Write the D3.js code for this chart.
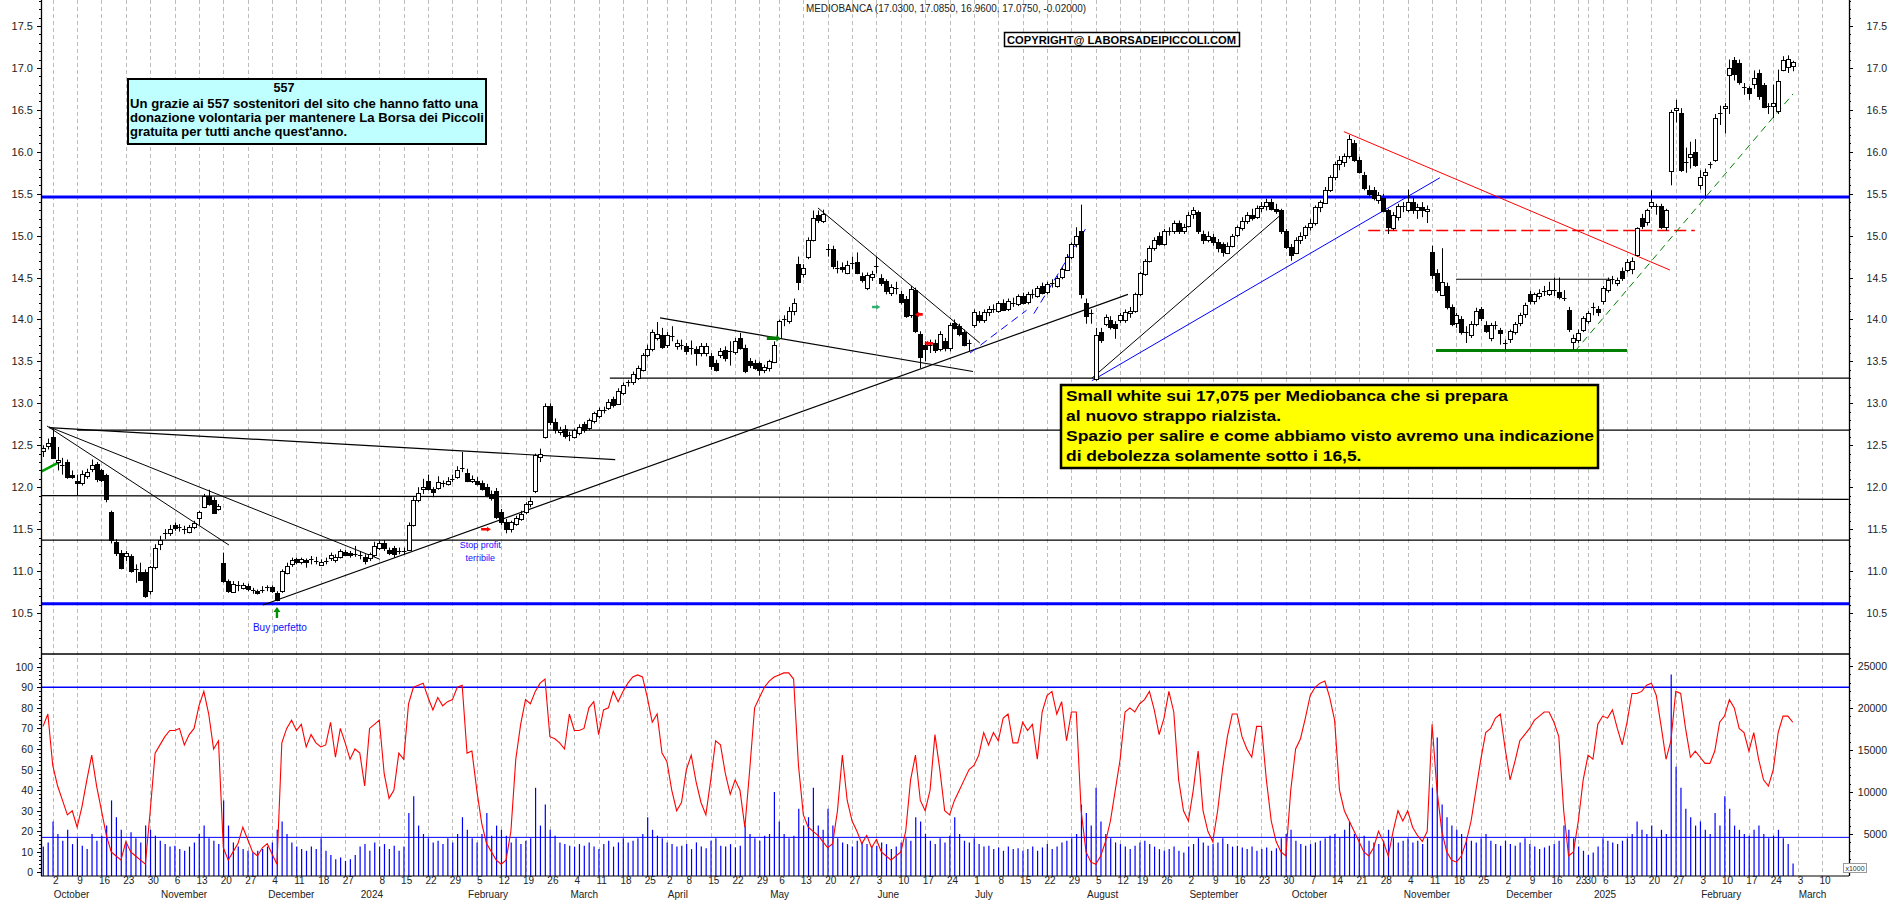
<!DOCTYPE html>
<html><head><meta charset="utf-8">
<script src="https://d3js.org/d3.v7.min.js"></script>
<style>body{margin:0;background:#fff}svg{display:block}text{font-family:"Liberation Sans",Arial,sans-serif}</style>
</head><body><svg id="c" width="1890" height="903"></svg>
<script>
// ---------------- DATA ----------------
const ohlc = [
[12.43,12.50,12.36,12.47],[12.50,12.58,12.45,12.53],[12.60,12.70,12.34,12.35],[12.30,12.48,12.20,12.32],[12.26,12.35,12.15,12.25],[12.30,12.33,12.10,12.12],[12.15,12.20,12.10,12.13],[12.08,12.15,11.90,12.06],[12.05,12.20,12.02,12.16],[12.13,12.22,12.10,12.18],
[12.22,12.33,12.18,12.27],[12.28,12.30,12.06,12.10],[12.20,12.22,12.06,12.08],[12.14,12.16,11.82,11.85],[11.70,11.72,11.33,11.37],[11.35,11.38,11.18,11.22],[11.22,11.25,11.02,11.04],[11.18,11.24,11.12,11.22],[11.18,11.20,10.98,11.00],[11.03,11.08,10.86,11.02],
[10.99,11.10,10.88,10.90],[10.99,11.02,10.68,10.70],[10.76,11.06,10.72,11.05],[11.05,11.32,11.02,11.28],[11.32,11.42,11.25,11.37],[11.44,11.50,11.38,11.45],[11.45,11.55,11.42,11.50],[11.55,11.58,11.48,11.52],[11.52,11.56,11.47,11.52],[11.50,11.54,11.44,11.50],
[11.47,11.55,11.45,11.53],[11.52,11.60,11.50,11.57],[11.63,11.72,11.55,11.70],[11.77,11.92,11.75,11.90],[11.90,11.97,11.78,11.80],[11.85,11.88,11.68,11.70],[11.75,11.80,11.72,11.78],[11.10,11.22,10.86,10.88],[10.88,10.90,10.74,10.76],[10.76,10.88,10.74,10.85],
[10.83,10.88,10.76,10.82],[10.80,10.86,10.78,10.83],[10.82,10.85,10.76,10.79],[10.77,10.80,10.73,10.77],[10.76,10.78,10.72,10.74],[10.78,10.82,10.74,10.78],[10.81,10.83,10.76,10.80],[10.81,10.83,10.74,10.76],[10.74,10.76,10.64,10.66],[10.76,11.02,10.74,11.00],
[10.98,11.10,10.96,11.06],[11.08,11.16,11.05,11.13],[11.14,11.16,11.08,11.11],[11.10,11.16,11.08,11.14],[11.13,11.15,11.04,11.11],[11.14,11.18,11.08,11.14],[11.12,11.17,11.08,11.12],[11.08,11.14,11.06,11.11],[11.12,11.16,11.08,11.12],[11.15,11.22,11.12,11.19],
[11.14,11.20,11.10,11.17],[11.17,11.26,11.15,11.24],[11.23,11.25,11.18,11.20],[11.21,11.24,11.16,11.19],[11.20,11.30,11.17,11.20],[11.19,11.24,11.14,11.19],[11.17,11.20,11.08,11.12],[11.15,11.22,11.12,11.20],[11.19,11.35,11.17,11.30],[11.27,11.36,11.25,11.33],
[11.33,11.37,11.24,11.27],[11.25,11.28,11.19,11.21],[11.27,11.30,11.16,11.20],[11.24,11.28,11.20,11.24],[11.24,11.28,11.20,11.24],[11.25,11.58,11.24,11.55],[11.55,11.88,11.53,11.85],[11.85,12.00,11.82,11.93],[11.98,12.10,11.92,12.00],[12.07,12.15,11.96,11.98],
[11.98,12.00,11.88,11.94],[11.99,12.13,11.97,12.06],[12.05,12.08,12.00,12.05],[12.04,12.12,12.02,12.08],[12.10,12.15,12.06,12.10],[12.12,12.25,12.10,12.20],[12.22,12.42,12.18,12.23],[12.17,12.22,12.06,12.08],[12.08,12.14,12.05,12.10],[12.08,12.12,12.02,12.05],
[12.05,12.08,11.96,11.98],[12.00,12.04,11.88,11.90],[11.92,11.96,11.84,11.87],[11.96,11.99,11.62,11.65],[11.70,11.74,11.55,11.58],[11.58,11.62,11.45,11.50],[11.50,11.60,11.46,11.58],[11.56,11.66,11.54,11.63],[11.62,11.72,11.60,11.68],[11.70,11.82,11.68,11.80],
[11.80,11.88,11.76,11.84],[11.95,12.40,11.93,12.38],[12.36,12.46,12.30,12.40],[12.60,13.00,12.58,12.97],[12.97,13.00,12.74,12.78],[12.78,12.82,12.64,12.68],[12.66,12.72,12.62,12.68],[12.70,12.74,12.58,12.62],[12.62,12.66,12.55,12.62],[12.60,12.70,12.58,12.68],
[12.65,12.75,12.62,12.72],[12.75,12.78,12.65,12.68],[12.70,12.82,12.68,12.80],[12.78,12.90,12.76,12.88],[12.85,12.95,12.82,12.92],[12.92,12.96,12.88,12.92],[12.95,13.05,12.92,13.02],[13.05,13.08,12.95,12.98],[13.00,13.18,12.98,13.15],[13.12,13.25,13.10,13.22],
[13.25,13.28,13.20,13.25],[13.25,13.38,13.22,13.35],[13.30,13.45,13.28,13.42],[13.40,13.60,13.38,13.58],[13.58,13.70,13.55,13.65],[13.65,13.88,13.62,13.85],[13.78,13.97,13.75,13.83],[13.82,13.90,13.65,13.68],[13.70,13.85,13.66,13.82],[13.80,13.92,13.74,13.80],
[13.68,13.76,13.64,13.72],[13.70,13.76,13.64,13.70],[13.68,13.72,13.58,13.62],[13.66,13.75,13.58,13.66],[13.65,13.68,13.45,13.60],[13.60,13.72,13.56,13.68],[13.60,13.72,13.56,13.68],[13.56,13.60,13.40,13.44],[13.48,13.52,13.38,13.40],[13.58,13.66,13.54,13.63],
[13.64,13.68,13.50,13.55],[13.62,13.74,13.45,13.62],[13.61,13.78,13.58,13.74],[13.78,13.84,13.64,13.66],[13.66,13.70,13.36,13.38],[13.50,13.54,13.42,13.45],[13.48,13.52,13.40,13.42],[13.48,13.50,13.33,13.40],[13.40,13.46,13.36,13.43],[13.42,13.52,13.38,13.50],
[13.50,13.74,13.48,13.70],[13.78,14.00,13.76,13.98],[14.00,14.05,13.92,14.00],[13.98,14.15,13.95,14.10],[14.10,14.25,14.05,14.20],[14.66,14.75,14.35,14.45],[14.55,14.66,14.50,14.62],[14.75,14.98,14.72,14.95],[14.95,15.30,14.93,15.21],[15.25,15.30,15.15,15.19],
[15.18,15.31,15.15,15.26],[14.84,14.90,14.75,14.84],[14.84,14.88,14.60,14.64],[14.62,14.70,14.55,14.62],[14.63,14.68,14.56,14.61],[14.56,14.70,14.54,14.65],[14.67,14.75,14.60,14.67],[14.69,14.80,14.54,14.56],[14.52,14.56,14.44,14.47],[14.38,14.56,14.35,14.53],
[14.50,14.58,14.46,14.54],[14.64,14.75,14.55,14.64],[14.50,14.54,14.40,14.44],[14.46,14.48,14.30,14.34],[14.32,14.42,14.28,14.39],[14.38,14.45,14.30,14.38],[14.30,14.34,14.18,14.21],[14.25,14.28,14.02,14.05],[14.05,14.40,14.02,14.36],[14.35,14.38,13.84,13.86],
[13.83,13.86,13.42,13.55],[13.69,13.74,13.50,13.64],[13.70,13.76,13.60,13.70],[13.72,13.76,13.60,13.64],[13.65,13.86,13.62,13.83],[13.74,13.78,13.62,13.66],[13.65,13.96,13.62,13.93],[13.96,14.00,13.88,13.90],[13.92,13.95,13.80,13.82],[13.85,13.88,13.68,13.70],
[13.72,13.76,13.62,13.72],[13.93,14.12,13.90,14.09],[14.05,14.10,13.96,13.99],[13.99,14.12,13.96,14.09],[14.08,14.16,14.04,14.12],[14.13,14.18,14.08,14.13],[14.10,14.22,14.08,14.20],[14.20,14.24,14.10,14.12],[14.12,14.25,14.10,14.22],[14.20,14.26,14.15,14.20],
[14.18,14.30,14.16,14.28],[14.28,14.32,14.18,14.20],[14.20,14.33,14.18,14.30],[14.30,14.36,14.25,14.30],[14.28,14.40,14.26,14.38],[14.40,14.44,14.30,14.32],[14.32,14.45,14.30,14.42],[14.43,14.48,14.38,14.43],[14.40,14.52,14.38,14.50],[14.50,14.62,14.48,14.60],
[14.60,14.78,14.58,14.75],[14.75,14.92,14.72,14.90],[14.90,15.10,14.86,15.00],[15.05,15.37,14.25,14.30],[14.20,14.25,13.95,14.05],[14.08,14.12,13.95,14.07],[13.30,13.90,13.27,13.82],[13.85,13.90,13.72,13.75],[13.95,14.06,13.92,14.03],[13.99,14.04,13.88,13.91],
[13.95,13.98,13.77,13.90],[13.99,14.08,13.96,14.05],[13.99,14.12,13.96,14.09],[14.08,14.15,14.02,14.10],[14.10,14.32,14.08,14.30],[14.30,14.57,14.28,14.55],[14.55,14.72,14.52,14.70],[14.70,14.88,14.68,14.85],[14.85,14.98,14.82,14.95],[15.00,15.04,14.88,14.90],
[14.90,15.08,14.88,15.05],[15.05,15.10,15.00,15.05],[15.05,15.18,15.02,15.15],[15.15,15.18,15.02,15.05],[15.05,15.14,15.02,15.10],[15.12,15.28,15.10,15.25],[15.25,15.34,15.20,15.30],[15.28,15.30,15.02,15.05],[15.02,15.06,14.90,14.95],[14.95,15.05,14.92,15.00],
[14.98,15.02,14.88,14.92],[14.92,14.96,14.80,14.85],[14.90,14.92,14.75,14.80],[14.80,14.92,14.78,14.88],[14.88,15.02,14.86,15.00],[15.00,15.12,14.98,15.10],[15.10,15.22,15.06,15.18],[15.18,15.28,15.14,15.25],[15.25,15.32,15.18,15.22],[15.22,15.36,15.20,15.33],
[15.33,15.40,15.28,15.35],[15.35,15.44,15.30,15.40],[15.40,15.44,15.30,15.32],[15.32,15.38,15.26,15.30],[15.30,15.32,15.02,15.05],[15.05,15.08,14.84,14.86],[14.86,14.90,14.70,14.76],[14.80,14.98,14.78,14.95],[14.95,15.04,14.90,15.00],[15.00,15.12,14.96,15.10],
[15.10,15.20,15.06,15.15],[15.15,15.36,15.12,15.34],[15.34,15.42,15.28,15.40],[15.40,15.58,15.38,15.55],[15.55,15.72,15.52,15.70],[15.70,15.88,15.66,15.85],[15.85,15.95,15.78,15.90],[15.88,15.98,15.82,15.95],[15.95,16.20,15.92,16.15],[16.10,16.14,15.88,15.90],
[15.90,15.94,15.74,15.76],[15.72,15.76,15.54,15.56],[15.55,15.60,15.45,15.50],[15.55,15.58,15.42,15.45],[15.42,15.52,15.38,15.48],[15.45,15.50,15.28,15.30],[15.30,15.32,15.02,15.10],[15.10,15.28,15.06,15.25],[15.22,15.38,15.18,15.35],[15.35,15.40,15.28,15.35],
[15.30,15.55,15.28,15.40],[15.40,15.45,15.26,15.30],[15.30,15.38,15.20,15.34],[15.34,15.40,15.22,15.30],[15.30,15.36,15.15,15.32],[14.80,14.88,14.48,14.52],[14.55,14.60,14.32,14.35],[14.30,14.85,14.28,14.45],[14.40,14.44,14.12,14.15],[14.15,14.18,13.92,13.95],
[13.95,14.08,13.90,14.05],[14.00,14.04,13.82,13.85],[13.85,13.92,13.72,13.85],[13.82,13.98,13.78,13.95],[13.95,14.14,13.92,14.10],[14.12,14.15,13.98,14.01],[13.94,13.98,13.84,13.87],[13.78,13.96,13.74,13.93],[13.94,13.98,13.88,13.94],[13.87,13.90,13.70,13.83],
[13.72,13.76,13.64,13.72],[13.76,13.88,13.72,13.86],[13.86,13.97,13.82,13.95],[13.95,14.08,13.92,14.05],[14.06,14.20,14.02,14.17],[14.30,14.34,14.18,14.22],[14.22,14.32,14.18,14.30],[14.28,14.36,14.24,14.32],[14.34,14.40,14.28,14.34],[14.30,14.45,14.28,14.35],
[14.35,14.50,14.28,14.35],[14.33,14.50,14.24,14.27],[14.26,14.35,14.22,14.26],[14.11,14.15,13.85,13.88],[13.73,13.82,13.64,13.78],[13.76,13.88,13.72,13.84],[13.88,14.04,13.85,14.02],[13.98,14.10,13.95,14.08],[14.15,14.20,14.05,14.15],[14.12,14.16,14.04,14.08],
[14.22,14.40,14.18,14.38],[14.35,14.50,14.32,14.47],[14.48,14.52,14.42,14.48],[14.43,14.50,14.40,14.47],[14.58,14.62,14.46,14.50],[14.59,14.72,14.56,14.69],[14.60,14.74,14.54,14.70],[14.77,15.10,14.75,15.09],[15.21,15.26,15.08,15.11],[15.16,15.32,15.12,15.30],
[15.35,15.54,15.32,15.40],[15.35,15.38,15.25,15.35],[15.35,15.38,15.08,15.10],[15.10,15.32,15.06,15.30],[15.78,16.50,15.60,16.48],[16.50,16.62,16.35,16.52],[16.46,16.52,15.76,15.78],[15.87,16.05,15.75,15.88],[15.93,16.12,15.80,15.97],[16.00,16.15,15.82,15.85],
[15.60,15.78,15.55,15.70],[15.73,15.80,15.44,15.76],[15.86,15.88,15.80,15.86],[15.90,16.45,15.88,16.40],[16.46,16.55,16.32,16.46],[16.53,16.58,16.22,16.55],[16.92,17.10,16.45,17.00],[17.10,17.13,16.85,16.93],[17.06,17.10,16.80,16.83],[16.77,16.82,16.68,16.77],
[16.76,16.78,16.62,16.70],[16.81,16.97,16.75,16.88],[16.94,16.98,16.62,16.66],[16.80,16.82,16.52,16.54],[16.54,16.58,16.45,16.54],[16.54,16.80,16.40,16.58],[16.48,16.98,16.45,16.84],[16.98,17.14,16.96,17.10],[17.02,17.15,16.94,17.11],[17.03,17.085,16.96,17.075]
];
const oscillator = [
71,77,52,42,35,28,30,22,32,45, 57,42,30,18,10,8,6,15,10,8, 6,4,30,58,62,66,69,69,70,62, 67,70,81,88,77,60,64,12,6,10,
14,22,16,10,8,12,14,9,4,63, 70,74,69,72,61,67,63,61,62,73, 56,70,63,55,60,58,42,70,72,74, 48,36,40,58,55,82,90,91,92,85,
79,85,81,83,84,90,91,58,59,40, 24,14,10,6,4,6,20,55,72,84, 82,88,92,94,66,65,63,60,77,69, 69,70,80,83,67,79,80,88,83,88,
92,95,96,95,85,73,77,58,54,40, 30,34,50,57,44,34,28,45,64,62, 48,38,45,40,22,50,80,85,90,93, 95,96,97,97,94,52,28,22,20,18,
15,12,14,30,57,35,25,20,14,18, 12,16,10,8,6,8,10,20,45,57, 35,30,40,67,50,30,28,35,40,45, 50,52,57,68,62,68,64,75,77,63,
63,73,69,72,55,78,86,88,77,83, 64,78,78,30,10,5,4,8,15,25, 40,55,78,80,78,82,84,88,79,67, 75,88,78,45,30,25,40,59,30,20,
15,30,50,66,77,77,66,60,56,71, 71,45,25,15,10,8,40,60,65,75, 86,90,92,93,85,74,40,30,25,20, 15,10,8,12,20,15,8,20,30,25,
30,22,18,15,20,72,40,20,10,6, 5,8,15,25,40,55,68,70,75,77, 60,45,54,64,67,70,74,76,78,78, 73,66,30,8,10,25,45,57,55,72,
76,75,79,70,62,73,87,87,88,91, 92,86,71,55,64,88,87,70,56,59, 56,53,53,59,73,76,84,80,70,68, 59,68,55,45,42,50,68,76,76,73
];
const volume = [
3500,4000,6500,5000,4200,5500,3800,4500,3600,3200, 5000,4200,4800,6000,9000,7000,5500,4000,5200,4500,
4000,6000,5500,4800,4200,3800,3500,3600,3200,3000, 3500,4000,5000,6000,4500,4200,3800,9000,6000,4000,
3500,3200,3000,2800,3000,3200,3500,4000,5500,6500, 5000,4000,3500,3200,3000,3500,3200,4500,3000,2500,
2000,2200,1800,2000,2500,3500,3800,3000,4000,3500, 3800,3200,3600,3000,3500,7500,9500,6000,5000,4500,
4000,4200,3800,4500,4000,5000,7000,5500,4500,4000, 5000,7500,4800,6000,5500,4800,4000,4500,3800,4200,
4500,10500,6000,8500,5500,4800,4000,3800,3600,3500, 3800,3600,4000,3500,3200,3800,4200,3500,4000,4500,
4000,4200,4500,5000,7000,5500,4800,4500,4000,3800, 3500,3600,3800,3200,4000,3500,3300,4200,4500,3600,
3500,3800,3400,3600,6000,5000,4500,4200,4800,5000, 10000,6500,5000,4500,4800,8000,6000,7000,10500,6000,
5500,8000,6000,4500,4000,3800,3500,4200,4000,3800, 3500,3600,4000,3800,3200,3500,4000,4500,4200,7000,
6500,5000,4200,3800,4500,4000,4800,7000,5000,4200, 4000,4500,3800,3500,3600,3200,3400,3000,3500,3200,
3300,3000,3200,3500,3000,3400,3800,3200,3500,4000, 4200,4500,5000,8500,7500,6000,10500,6500,5000,4500,
4000,3800,3500,3200,3600,4000,4200,3800,3500,3200, 3000,3200,3500,3000,2800,3500,3800,4500,4000,3600,
3800,4000,4500,3800,3500,3600,3400,3200,3500,3000, 3200,3400,3000,3300,4500,5000,5500,4200,3800,3600,
3800,4000,4200,4500,4800,5000,4600,5500,6500,5000, 4500,4800,4200,4000,3800,4200,5500,4500,4000,4200,
4500,4000,4200,3800,4500,10500,16500,8500,7000,6000, 5500,5000,4500,4200,4000,4500,5000,4200,3800,3600,
4200,3800,3600,4000,4500,3800,3500,3200,3400,3600, 3800,4200,6000,5500,4500,3500,3000,2500,2800,3500,
4500,4200,4000,3800,4200,4500,5000,6500,5500,5000, 6000,4500,5500,5000,24000,13000,10500,8000,7000,6000,
6500,5500,5000,7500,6000,9500,8000,6000,5500,5000, 4800,5500,6000,5000,4500,4800,5500,4500,3800,1500
];
const holidays = ["2023-12-25","2023-12-26","2024-01-01","2024-03-29","2024-04-01","2024-05-01","2024-08-15","2024-12-24","2024-12-25","2024-12-26","2024-12-31","2025-01-01"];
const monthNames = ["January","February","March","April","May","June","July","August","September","October","November","December"];
const priceLabels = [10.5,11,11.5,12,12.5,13,13.5,14,14.5,15,15.5,16,16.5,17,17.5];
const oscLabels = [0,10,20,30,40,50,60,70,80,90,100];
const volLabels = [5000,10000,15000,20000,25000];
// price levels and drawn lines, in (bar index, price)
const levels = [
 {v:15.46,c:"#0000ff",w:3},{v:10.61,c:"#0000ff",w:3},
 {v:13.30,c:"#000",w:1.2,from:116.3},{v:12.68,c:"#000",w:1.2,from:7},{v:11.37,c:"#000",w:1.2}
];
const trendLines = [
 {p:[[-0.4,11.90],[370.5,11.855]],c:"#000",w:1.2},
 {p:[[0.82,12.73],[38.16,11.31]],c:"#000",w:1},
 {p:[[1.23,12.72],[69.14,11.14]],c:"#000",w:1},
 {p:[[1.23,12.71],[117.4,12.33]],c:"#000",w:1.2},
 {p:[[45.14,10.595],[222.6,14.30]],c:"#000",w:1.2},
 {p:[[126.6,14.02],[190.8,13.38]],c:"#000",w:1.2},
 {p:[[159.0,15.33],[192.2,13.72]],c:"#000",w:1},
 {p:[[190.2,13.60],[201.8,14.11]],c:"#0000ff",w:1,d:"8,5"},
 {p:[[203.3,14.07],[214,15.09]],c:"#0000ff",w:1,d:"8,5"},
 {p:[[215.2,13.30],[254.6,15.28]],c:"#000",w:1},
 {p:[[215.2,13.27],[286.6,15.69]],c:"#0000ff",w:1},
 {p:[[266.9,16.24],[333.8,14.59]],c:"#ff0000",w:1},
 {p:[[271.9,15.06],[338.9,15.06]],c:"#ff0000",w:1.5,d:"12,5"},
 {p:[[314.3,13.62],[359.05,16.69]],c:"#008000",w:1,d:"7,5"},
 {p:[[285.8,13.63],[325,13.63]],c:"#008000",w:3},
 {p:[[289.9,14.48],[321.5,14.48]],c:"#000",w:1.2},
 {p:[[-0.27,12.19],[3.34,12.30]],c:"#00a000",w:2.5}
];

// ---------------- LAYOUT ----------------
const svg = d3.select("#c");
const AX0 = 41, AX1 = 1849, PB = 654, LB = 876;
const x = d3.scaleLinear().domain([0,359]).range([43,43+359*4.874]);
const yP = d3.scaleLinear().domain([10.011,17.81]).range([PB,0]);
const yO = d3.scaleLinear().domain([0,100]).range([872.45,666.7]);
const yV = d3.scaleLinear().domain([0,25000]).range([LB,666]);
const crisp = v => Math.round(v)+0.5;

// trading calendar
const days = [];
{ let d = new Date(Date.UTC(2023,8,28)); const end = new Date(Date.UTC(2025,2,14));
  while (d <= end) { const wd = d.getUTCDay(), s = d.toISOString().slice(0,10);
    if (wd>0 && wd<6 && !holidays.includes(s)) days.push(new Date(d));
    d.setUTCDate(d.getUTCDate()+1); } }
const weekStarts = [], monthStarts = [];
for (let i=1;i<days.length;i++){
  const a=days[i-1], b=days[i];
  const newWeek = b.getUTCDay() < a.getUTCDay() || (b-a) >= 7*864e5;
  const newMonth = b.getUTCMonth() !== a.getUTCMonth();
  if (newMonth) monthStarts.push(i);
  if (newWeek && !(newMonth && b.getUTCMonth()===0)) { if (x(i) < AX1-8) weekStarts.push(i); }
}

// grid
const g0 = svg.append("g");
weekStarts.forEach(i => g0.append("line").attr("x1",crisp(x(i))).attr("x2",crisp(x(i))).attr("y1",0).attr("y2",LB)
  .attr("stroke","#bdbdbd").attr("stroke-dasharray","4,3"));

// levels
const gl = svg.append("g");
levels.forEach(l => gl.append("line").attr("x1", l.from!==undefined ? x(l.from) : AX0).attr("x2",AX1)
  .attr("y1",yP(l.v)).attr("y2",yP(l.v)).attr("stroke",l.c).attr("stroke-width",l.w));
trendLines.forEach(t => gl.append("line").attr("x1",x(t.p[0][0])).attr("y1",yP(t.p[0][1]))
  .attr("x2",x(t.p[1][0])).attr("y2",yP(t.p[1][1])).attr("stroke",t.c).attr("stroke-width",t.w)
  .attr("stroke-dasharray",t.d||null));

// candles
const gc = svg.append("g");
ohlc.forEach((d,i) => {
  const [o,h,l,c] = d, cx = crisp(x(i));
  gc.append("line").attr("x1",cx).attr("x2",cx).attr("y1",yP(h)).attr("y2",yP(l)).attr("stroke","#000");
  const top = yP(Math.max(o,c)), bot = yP(Math.min(o,c));
  if (bot-top < 1.2) gc.append("line").attr("x1",cx-2.5).attr("x2",cx+2).attr("y1",crisp(top)).attr("y2",crisp(top)).attr("stroke","#000");
  else gc.append("rect").attr("x",cx-2).attr("y",crisp(top)).attr("width",4).attr("height",Math.round(bot-top))
    .attr("fill", c>=o ? "#fff" : "#000").attr("stroke","#000");
});

// lower panel
const gv = svg.append("g");
volume.forEach((v,i) => gv.append("line").attr("x1",x(i)+0.3).attr("x2",x(i)+0.3).attr("y1",yV(0)).attr("y2",yV(v))
  .attr("stroke","#0000ff").attr("stroke-width",1.2));
svg.append("line").attr("x1",AX0).attr("x2",AX1).attr("y1",yO(90)).attr("y2",yO(90)).attr("stroke","#0000ff").attr("stroke-width",1.6);
svg.append("line").attr("x1",AX0).attr("x2",AX1).attr("y1",yV(4600)).attr("y2",yV(4600)).attr("stroke","#0000ff").attr("stroke-width",1);
svg.append("path").datum(oscillator).attr("fill","none").attr("stroke","#ff0000").attr("stroke-width",1.1)
  .attr("d", d3.line().x((d,i)=>x(i)).y(d=>yO(d)));

// frame
const gf = svg.append("g").attr("stroke","#000");
gf.append("line").attr("x1",crisp(AX0)).attr("x2",crisp(AX0)).attr("y1",0).attr("y2",LB).attr("stroke-width",1.3);
gf.append("line").attr("x1",crisp(AX1)).attr("x2",crisp(AX1)).attr("y1",0).attr("y2",LB).attr("stroke-width",1.3);
gf.append("line").attr("x1",AX0).attr("x2",AX1).attr("y1",PB).attr("y2",PB).attr("stroke-width",1.6);
gf.append("line").attr("x1",AX0).attr("x2",AX1).attr("y1",LB).attr("y2",LB).attr("stroke-width",1);

// axes ticks + labels
const ga = svg.append("g").attr("fill","#222");
d3.range(101,179).forEach(k => { const v=k/10, y=crisp(yP(v)), maj = k%5===0;
  gf.append("line").attr("x1",AX0-(maj?4:2)).attr("x2",AX0).attr("y1",y).attr("y2",y);
  gf.append("line").attr("x1",AX1).attr("x2",AX1+(maj?4:2)).attr("y1",y).attr("y2",y); });
priceLabels.forEach(v => {
  ga.append("text").attr("x",33).attr("y",yP(v)+4).attr("text-anchor","end").attr("font-size",11).text(d3.format(".1f")(v));
  ga.append("text").attr("x",1887).attr("y",yP(v)+4).attr("text-anchor","end").attr("font-size",10.5).text(d3.format(".1f")(v));
});
d3.range(0,106,2).forEach(v => { const y=crisp(yO(v)); gf.append("line").attr("x1",AX0-(v%10===0?4:2)).attr("x2",AX0).attr("y1",y).attr("y2",y); });
oscLabels.forEach(v => ga.append("text").attr("x",33).attr("y",yO(v)+4).attr("text-anchor","end").attr("font-size",10.5).text(v));
d3.range(1000,26001,1000).forEach(v => { const y=crisp(yV(v)); gf.append("line").attr("x1",AX1).attr("x2",AX1+(v%5000===0?4:2)).attr("y1",y).attr("y2",y); });
volLabels.forEach(v => ga.append("text").attr("x",1887).attr("y",yV(v)+4).attr("text-anchor","end").attr("font-size",10.5).text(v));

// x axis labels
weekStarts.forEach(i => ga.append("text").attr("x",x(i)+3).attr("y",884).attr("text-anchor","middle").attr("font-size",10).text(days[i].getUTCDate()));
monthStarts.forEach(i => { const m = days[i].getUTCMonth();
  ga.append("text").attr("x",x(i)+1).attr("y",898).attr("font-size",10).text(m===0 ? days[i].getUTCFullYear() : monthNames[m]); });

// x1000 marker
svg.append("rect").attr("x",1843.5).attr("y",863.5).attr("width",23).attr("height",9).attr("fill","#fff").attr("stroke","#999");
svg.append("text").attr("x",1855).attr("y",870.5).attr("text-anchor","middle").attr("font-size",7).attr("fill","#333").text("x1000");

// helper to fit text width
function fit(t, w){ t.attr("textLength",w).attr("lengthAdjust","spacingAndGlyphs"); }

// title & copyright
fit(svg.append("text").attr("x",806).attr("y",12).attr("font-size",10).attr("fill","#222")
  .text("MEDIOBANCA (17.0300, 17.0850, 16.9600, 17.0750, -0.02000)"), 280);
svg.append("rect").attr("x",1004.5).attr("y",32.5).attr("width",235).attr("height",14).attr("fill","#fff").attr("stroke","#000").attr("stroke-width",1.5);
fit(svg.append("text").attr("x",1007).attr("y",44).attr("font-size",11).attr("font-weight","bold").text("COPYRIGHT@ LABORSADEIPICCOLI.COM"), 229);

// cyan box
svg.append("rect").attr("x",128).attr("y",79).attr("width",358).attr("height",65).attr("fill","#c0ffff").attr("stroke","#000").attr("stroke-width",2);
svg.append("text").attr("x",284).attr("y",92).attr("text-anchor","middle").attr("font-size",12.5).attr("font-weight","bold").text("557");
const cy = [["Un grazie ai 557 sostenitori del sito che hanno fatto una",107.5,348],
            ["donazione volontaria per mantenere La Borsa dei Piccoli",121.5,354],
            ["gratuita per tutti anche quest'anno.",136,217]];
cy.forEach(([s,y,w]) => fit(svg.append("text").attr("x",130).attr("y",y).attr("font-size",12.5).attr("font-weight","bold").text(s), w));

// yellow box
const YB = 385;
svg.append("rect").attr("x",1061).attr("y",YB).attr("width",537).attr("height",83).attr("fill","#ffff00").attr("stroke","#000").attr("stroke-width",2.5);
const yl = ["Small white sui 17,075 per Mediobanca che si prepara","al nuovo strappo rialzista.",
            "Spazio per salire e come abbiamo visto avremo una indicazione","di debolezza solamente sotto i 16,5."];
const ytexts = yl.map((s,k) => svg.append("text").attr("x",1066).attr("y",YB+16+20*k).attr("font-size",14).attr("font-weight","bold").text(s));
{ const n3 = ytexts[2].node().getComputedTextLength(); const r = 528/n3;
  ytexts.forEach((t,k) => { const n=t.node().getComputedTextLength(); fit(t, k===0?442:(k===2?528:n*r)); }); }

// annotations
const ann = svg.append("g");
{ const ax = x(48.0), y1 = yP(10.44), y2 = yP(10.57);
  ann.append("path").attr("d",`M${ax},${y2} L${ax-3.5},${y2+5} L${ax-1.2},${y2+5} L${ax-1.2},${y1} L${ax+1.2},${y1} L${ax+1.2},${y2+5} L${ax+3.5},${y2+5} Z`).attr("fill","#009000"); }
ann.append("text").attr("x",x(48.6)).attr("y",yP(10.29)).attr("text-anchor","middle").attr("font-size",10).attr("fill","#1010ff").text("Buy perfetto");
ann.append("text").attr("x",x(89.7)).attr("y",yP(11.275)).attr("text-anchor","middle").attr("font-size",9).attr("fill","#1010ff").text("Stop profit");
ann.append("text").attr("x",x(89.7)).attr("y",yP(11.12)).attr("text-anchor","middle").attr("font-size",9).attr("fill","#1010ff").text("terribile");
function arrow(i0,i1,p,col,hw){ const xa=x(i0), xb=x(i1), y=yP(p), dir = xb>xa?1:-1, hl=Math.min(4,Math.abs(xb-xa)/2);
  ann.append("path").attr("d",`M${xa},${y-hw/2} L${xb-dir*hl},${y-hw/2} L${xb-dir*hl},${y-hw} L${xb},${y} L${xb-dir*hl},${y+hw} L${xb-dir*hl},${y+hw/2} L${xa},${y+hw/2} Z`).attr("fill",col); }
arrow(89.9,91.9,11.50,"#ff0000",2.5);
arrow(148.5,151.3,13.776,"#008000",3.5);
arrow(170.1,171.8,14.15,"#30b070",2.5);
arrow(180.5,178.9,14.06,"#ff0000",2.8);
arrow(182.6,180.8,13.716,"#ff0000",2.8);
</script></body></html>
